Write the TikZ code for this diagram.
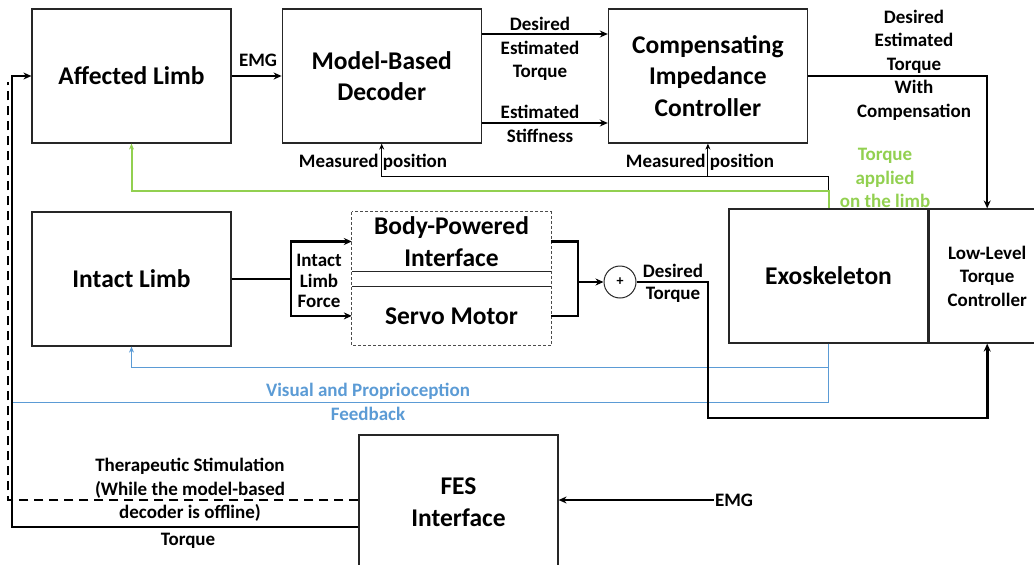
\documentclass[tikz,border=0pt]{standalone}
\usepackage{fontspec}
\setmainfont{Carlito}
\usetikzlibrary{arrows.meta, positioning}

\definecolor{limbgreen}{RGB}{146,208,80}
\definecolor{feedblue}{RGB}{91,155,213}

\newcommand{\bigtxt}{\fontsize{25.5}{31.5}\selectfont\bfseries}
\newcommand{\smalltxt}{\fontsize{19}{23.5}\selectfont\bfseries}

\tikzstyle{block} = [rectangle, minimum width=199pt, minimum height=134pt, text centered, align=center, draw=black!85, line width=1.2pt, font=\bigtxt]
\tikzstyle{halfblock} = [rectangle, minimum width=199pt, minimum height=59pt, text centered, align=center, font=\bigtxt]
\tikzstyle{sigtext} = [align=center, font=\smalltxt, inner sep=1pt]
\tikzstyle{arrow} = [line width=2pt, ->, >={Stealth[length=8pt,width=7pt]}]
\tikzstyle{thickarrow} = [line width=2.8pt, ->, >={Stealth[length=8pt,width=7pt]}]
\tikzstyle{thickline} = [line width=2.8pt]
\tikzstyle{thinarrow} = [line width=1pt, ->, >={Stealth[length=6pt,width=5pt]}]

\begin{document}
\begin{tikzpicture}[x=1pt, y=-1pt]
        \useasboundingbox (0,0) rectangle (1034,565);
        % blocks
        \node (affected) [block] at (131.5,76) {Affected Limb};
        \node (decoder) [block, right=50pt of affected] {Model-Based\\Decoder};
        \node (cic) [block, right=126pt of decoder] {Compensating\\Impedance\\Controller};
        \node (intact) [block] at (131.5,279) {Intact Limb};
        \node (bpi) [halfblock] at (451.5,241.5) {Body-Powered\\Interface};
        \node (servo) [halfblock, below=15pt of bpi] {Servo Motor};
        \node (sum) [circle, draw=black!85, line width=1pt, minimum size=32pt, inner sep=0pt, font=\fontsize{14}{14}\selectfont\bfseries] at (620,282) {+};
        \node (exo) [block] at (828.5,276) {Exoskeleton};
        \node (lltc) [block, minimum width=116pt, font=\smalltxt, right=0pt of exo] {Low-Level\\Torque\\Controller};
        \node (fes) [block] at (458.5,502) {FES\\Interface};
        \draw [black!70, line width=1pt, dash pattern=on 3pt off 2pt] (bpi.north west) rectangle (servo.south east);
        \draw [black!85, line width=1pt] (bpi.south west) -- (bpi.south east);
        \draw [black!85, line width=1pt] (servo.north west) -- (servo.north east);

        % labels
        \node (emglbl) [sigtext] at (258,60) {EMG};
        \node (dettxt) [sigtext] at (540,49) {Desired\\Estimated\\Torque};
        \node (esttxt) [sigtext] at (540,124) {Estimated\\Stiffness};
        \node (comptxt) [sigtext] at (914,65) {Desired\\Estimated\\Torque\\With\\Compensation};
        \node (meas1) [sigtext] at (373,162) {Measured position};
        \node (meas2) [sigtext] at (700,162) {Measured position};
        \node (applied) [sigtext, text=limbgreen] at (885,178) {Torque\\applied\\on the limb};
        \node (forcetxt) [sigtext, font=\fontsize{19}{20.5}\selectfont\bfseries] at (319,281) {Intact\\Limb\\Force};
        \node (desired) [sigtext, font=\fontsize{19}{22}\selectfont\bfseries] at (673,283) {Desired\\Torque};
        \node (visual) [sigtext, text=feedblue] at (368,402) {Visual and Proprioception\\Feedback};
        \node (stimtxt) [sigtext] at (190,490) {Therapeutic Stimulation\\(While the model-based\\decoder is offline)};
        \node (torquetxt) [sigtext] at (188,541) {Torque};
        \node (emgin) [sigtext] at (734,500) {EMG};

        % bus points
        \coordinate (measbus) at (828.5,176);
        \coordinate (torquebus) at (828.5,191);
        \coordinate (feedbus) at (828.5,367);
        \coordinate (feedend) at (12,402);
        \coordinate (split) at (291,279);
        \coordinate (merge) at (578,282);
        \coordinate (dtcorner) at (708,418);
        \coordinate (torqueup) at (12,76);
        \coordinate (stimup) at (8,82);

        % connectors
        \draw [arrow] (affected.east) -- (decoder.west);
        \draw [arrow] ([yshift=42pt]decoder.east) -- ([yshift=42pt]cic.west);
        \draw [arrow] ([yshift=-47pt]decoder.east) -- ([yshift=-47pt]cic.west);
        \draw [arrow, line width=2.4pt] (cic.east) -| (lltc.north);
        \draw [thinarrow] (exo.north) -- (measbus) -| (decoder.south);
        \draw [thinarrow] (cic.south |- measbus) -- (cic.south);
        \draw [thinarrow, limbgreen, line width=2pt] (exo.north) -- (torquebus) -| (affected.south);
        \draw [thinarrow, feedblue] (exo.south) -- (feedbus) -| (intact.south);
        \draw [feedblue, line width=1pt] (exo.south) |- (feedend);
        \draw [thickline] (intact.east) -- (split);
        \draw [thickarrow] (split) |- (bpi.west);
        \draw [thickarrow] (split) |- (servo.west);
        \draw [thickline] (bpi.east) -| (merge);
        \draw [thickline] (servo.east) -| (merge);
        \draw [arrow] (merge) -- (sum.west);
        \draw [thickarrow] (sum.east) -| (dtcorner) -| (lltc.south);
        \draw [thickarrow, line width=2.4pt] ([yshift=-25pt]fes.west) -| (torqueup) -- (affected.west);
        \draw [thickline, line width=2.4pt, dash pattern=on 9pt off 6pt] ([yshift=2pt]fes.west) -| (stimup);
        \draw [arrow] (emgin.west) -- (emgin.west -| fes.east);
    \end{tikzpicture}
\end{document}
